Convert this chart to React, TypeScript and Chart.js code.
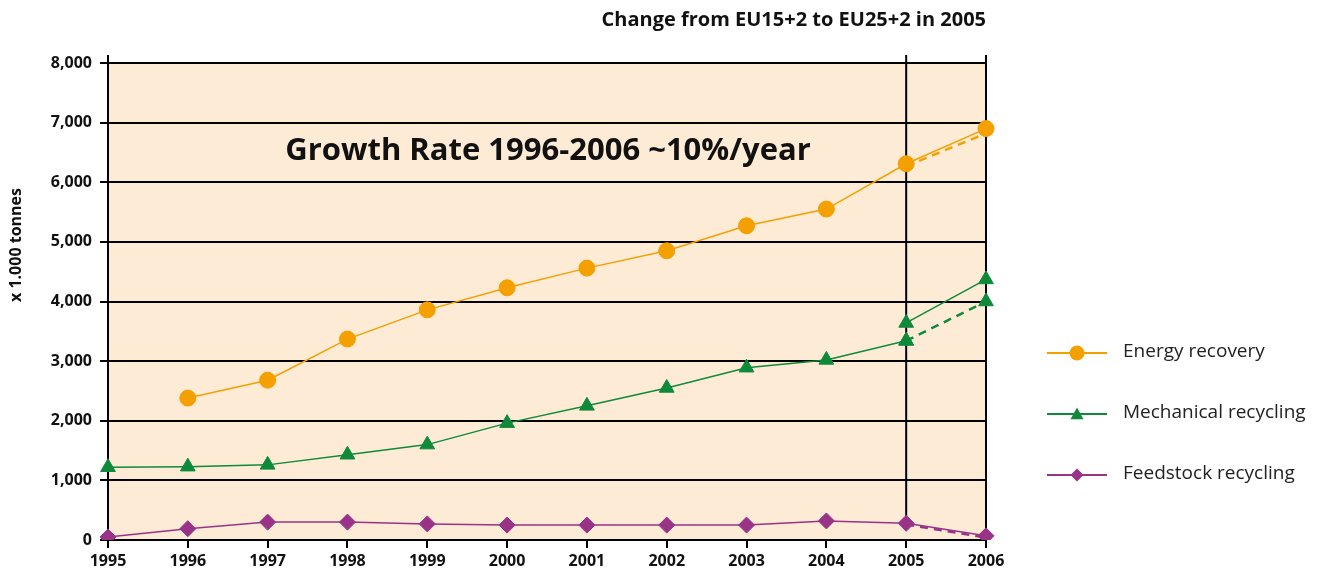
import React, { useEffect, useRef } from "react";
import { Chart, registerables } from "chart.js";

Chart.register(...registerables);

const years = ["1995", "1996", "1997", "1998", "1999", "2000", "2001", "2002", "2003", "2004", "2005", "2006"];
const energyRecovery = [null, 2380, 2680, 3370, 3860, 4230, 4560, 4850, 5270, 5550, 6310, 6900];
const energyRecoveryEU15 = [null, null, null, null, null, null, null, null, null, null, 6270, 6820];
const mechanicalRecycling = [1220, 1230, 1260, 1430, 1600, 1960, 2250, 2550, 2890, 3020, 3340, null];
const mechanicalRecyclingEU25 = [null, null, null, null, null, null, null, null, null, null, 3640, 4370];
const mechanicalRecyclingEU15 = [null, null, null, null, null, null, null, null, null, null, 3340, 4000];
const feedstockRecycling = [50, 190, 300, 300, 270, 250, 250, 250, 250, 320, 280, 70];
const feedstockRecyclingEU15 = [null, null, null, null, null, null, null, null, null, null, 260, 40];
const yTicks = [0, 1000, 2000, 3000, 4000, 5000, 6000, 7000, 8000];

const seriesNames = ["Energy recovery", "Mechanical recycling", "Feedstock recycling"];
const chartTitle = "Change from EU15+2 to EU25+2 in 2005";
const annotation = "Growth Rate 1996-2006 ~10%/year";
const yTitle = "x 1.000 tonnes";

const ORANGE = "#F4A000";
const GREEN = "#0E8A3A";
const PURPLE = "#993388";
const FONT = "'Open Sans', 'DejaVu Sans', sans-serif";

export default function App() {
  const ref = useRef<HTMLCanvasElement>(null);

  useEffect(() => {
    const canvas = ref.current;
    if (!canvas) return;

    const decor = {
      id: "decor",
      beforeDraw(chart: any) {
        const { ctx, chartArea } = chart;
        ctx.save();
        ctx.fillStyle = "#FDEBD6";
        ctx.fillRect(chartArea.left, chartArea.top, chartArea.right - chartArea.left, chartArea.bottom - chartArea.top);
        ctx.restore();
      },
      beforeDatasetsDraw(chart: any) {
        const { ctx, chartArea, scales } = chart;
        const x = scales.x;
        const y = scales.y;
        ctx.save();
        ctx.strokeStyle = "#000";
        ctx.lineWidth = 2;
        const top = chartArea.top - 8;
        ctx.beginPath();
        ctx.moveTo(chartArea.left, top);
        ctx.lineTo(chartArea.left, chartArea.top);
        ctx.stroke();
        const x05 = x.getPixelForValue(10);
        ctx.beginPath();
        ctx.moveTo(x05, top);
        ctx.lineTo(x05, y.getPixelForValue(400));
        ctx.stroke();
        const x06 = x.getPixelForValue(11);
        ctx.beginPath();
        ctx.moveTo(x06, top);
        ctx.lineTo(x06, chartArea.bottom);
        ctx.stroke();
        ctx.restore();
      },
      afterDraw(chart: any) {
        const { ctx, chartArea } = chart;
        ctx.save();
        ctx.fillStyle = "#111";
        ctx.font = `bold 20px ${FONT}`;
        ctx.textAlign = "right";
        ctx.textBaseline = "middle";
        ctx.fillText(chartTitle, chartArea.right, 20);
        ctx.font = `bold 31px ${FONT}`;
        ctx.textAlign = "center";
        ctx.fillText(annotation, 548, 151);
        ctx.font = `bold 16px ${FONT}`;
        ctx.translate(16, 245);
        ctx.rotate(-Math.PI / 2);
        ctx.textAlign = "center";
        ctx.fillText(yTitle, 0, 0);
        ctx.restore();

        const colors = [ORANGE, GREEN, PURPLE];
        const styles = ["circle", "triangle", "rectRot"];
        const rows = [353, 414, 475];
        ctx.save();
        for (let i = 0; i < 3; i++) {
          const yy = rows[i];
          ctx.strokeStyle = colors[i];
          ctx.lineWidth = 2;
          ctx.beginPath();
          ctx.moveTo(1047, yy);
          ctx.lineTo(1107, yy);
          ctx.stroke();
          ctx.fillStyle = colors[i];
          const r = i === 0 ? 7.5 : 6.5;
          ctx.beginPath();
          if (styles[i] === "circle") {
            ctx.arc(1077, yy, r, 0, Math.PI * 2);
          } else if (styles[i] === "triangle") {
            ctx.moveTo(1077, yy - r);
            ctx.lineTo(1077 + r, yy + r * 0.8);
            ctx.lineTo(1077 - r, yy + r * 0.8);
            ctx.closePath();
          } else {
            ctx.moveTo(1077, yy - r);
            ctx.lineTo(1077 + r, yy);
            ctx.lineTo(1077, yy + r);
            ctx.lineTo(1077 - r, yy);
            ctx.closePath();
          }
          ctx.fill();
          ctx.fillStyle = "#222";
          ctx.font = `19px ${FONT}`;
          ctx.textAlign = "left";
          ctx.textBaseline = "middle";
          ctx.fillText(seriesNames[i], 1123, yy - 1);
        }
        ctx.restore();
      },
    };

    const solid = (label: string, data: (number | null)[], color: string, style: string, radius: number) => ({
      label,
      data,
      borderColor: color,
      backgroundColor: color,
      borderWidth: 1.5,
      pointStyle: style,
      pointRadius: radius,
      pointBorderWidth: 1,
      spanGaps: false,
      tension: 0,
    });
    const dashed = (label: string, data: (number | null)[], color: string, style: string, radius: number) => ({
      label,
      data,
      borderColor: color,
      backgroundColor: color,
      borderWidth: 2.5,
      borderDash: [8, 6],
      pointStyle: style,
      pointRadius: radius,
      pointBorderWidth: 1,
      tension: 0,
    });

    const chart = new Chart(canvas, {
      type: "line",
      data: {
        labels: years,
        datasets: [
          dashed("Energy recovery EU15+2", energyRecoveryEU15, ORANGE, "circle", 0),
          dashed("Mechanical recycling EU15+2", mechanicalRecyclingEU15, GREEN, "triangle", 8.5),
          dashed("Feedstock recycling EU15+2", feedstockRecyclingEU15, PURPLE, "rectRot", 0),
          solid(seriesNames[0], energyRecovery, ORANGE, "circle", 8),
          solid("Mechanical recycling EU25+2", mechanicalRecyclingEU25, GREEN, "triangle", 8.5),
          solid(seriesNames[1], mechanicalRecycling, GREEN, "triangle", 8.5),
          solid(seriesNames[2], feedstockRecycling, PURPLE, "rectRot", 8),
        ] as any,
      },
      options: {
        responsive: false,
        animation: false,
        devicePixelRatio: 1,
        layout: { padding: { left: 0, top: 63, right: 337, bottom: 0 } },
        plugins: {
          legend: { display: false },
          title: { display: false },
          tooltip: { enabled: false },
        },
        scales: {
          x: {
            type: "category",
            offset: false,
            grid: {
              display: true,
              drawOnChartArea: false,
              drawTicks: true,
              tickLength: 8,
              tickColor: "#000",
              tickWidth: 2,
              color: "#000",
              lineWidth: 2,
            },
            border: { display: true, color: "#000", width: 2 },
            ticks: {
              color: "#111",
              font: { family: FONT, size: 16, weight: "bold" },
              padding: 4,
              maxRotation: 0,
              autoSkip: false,
            },
            afterFit(scale: any) {
              scale.height = 33;
            },
          },
          y: {
            min: 0,
            max: 8000,
            afterBuildTicks(scale: any) {
              scale.ticks = yTicks.map((v) => ({ value: v }));
            },
            grid: {
              color: "#000",
              lineWidth: 2,
              tickLength: 8,
              tickColor: "#000",
              tickWidth: 2,
            },
            border: { display: true, color: "#000", width: 2 },
            ticks: {
              color: "#111",
              font: { family: FONT, size: 16, weight: "bold" },
              padding: 8,
              callback: (v: any) => Number(v).toLocaleString("en-US"),
            },
            afterFit(scale: any) {
              scale.width = 108;
            },
          },
        },
      },
      plugins: [decor],
    } as any);

    return () => chart.destroy();
  }, []);

  return (
    <div style={{ position: "absolute", left: 0, top: 0, width: 1323, height: 573, background: "#fff" }}>
      <canvas ref={ref} width={1323} height={573} style={{ display: "block", width: 1323, height: 573 }} />
    </div>
  );
}
